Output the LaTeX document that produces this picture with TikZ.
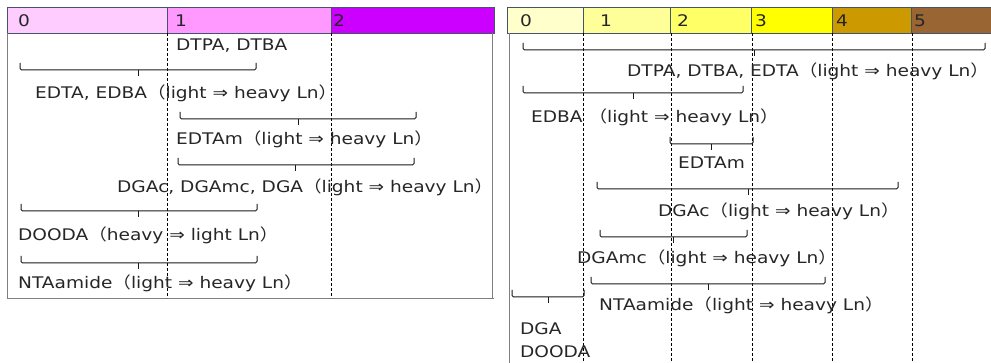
\documentclass[tikz,border=0pt]{standalone}
\usepackage{fontspec}
\setmainfont[FakeStretch=1.16]{DejaVu Sans}
\newfontfamily\jpfont[FakeStretch=1.16]{Noto Sans CJK JP}
\newcommand{\lp}{{\jpfont （}}
\newcommand{\rp}{{\jpfont ）}}
\usetikzlibrary{positioning}

\definecolor{hdline}{HTML}{44546A}
\definecolor{frm}{HTML}{7F7F7F}
\definecolor{brk}{HTML}{1A1A1A}

\begin{document}
\begin{tikzpicture}[x=1pt, y=-1pt,
  every node/.style={font=\fontsize{16}{19}\selectfont, inner sep=0pt, text=black!85},
  lbl/.style={anchor=west},
  hd/.style={anchor=west},
  cell/.style={draw=hdline, line width=0.8pt},
  grid/.style={densely dashed, black, line width=0.5pt},
  brace/.style={brk, line width=1pt, rounded corners=1.5pt}]
\useasboundingbox (0,0) rectangle (991,363);

% left chart
\foreach \xa/\xb/\col/\d/\xt in {7/167/FFCCFF/0/18, 167/331/FF99FF/1/175, 331/494/CC00FF/2/333}
  {\definecolor{cc}{HTML}{\col}
   \draw[cell, fill=cc] (\xa,7) rectangle (\xb,33);
   \node[hd] (hl\d) at (\xt,21) {\d};}
\draw[frm, line width=0.8pt] (7,33) -- (7,298) -- (494,298);
\draw[frm, line width=0.8pt] (492,33) -- (492,298);
\foreach \x in {167,331}
  \draw[grid] (\x,33) -- (\x,298);

\node[lbl] (dtpaL) at (176,46) {DTPA, DTBA};
\node[lbl] (edtaL) at (35,93) {EDTA, EDBA\lp light ⇒ heavy Ln\rp};
\node[lbl] (edtamL) at (176,139) {EDTAm\lp light ⇒ heavy Ln\rp};
\node[lbl] (dgaL) at (117,187) {DGAc, DGAmc, DGA\lp light ⇒ heavy Ln\rp};
\node[lbl] (doodaL) at (18,235) {DOODA\lp heavy ⇒ light Ln\rp};
\node[lbl] (ntaL) at (18,283) {NTAamide\lp light ⇒ heavy Ln\rp};

% right chart
\foreach \xa/\xb/\col/\d/\xt in {507/583/FFFFCC/0/520, 583/670/FFFF99/1/600, 670/751/FFFF66/2/677,
                                 751/832/FFFF00/3/755, 832/911/CC9900/4/836, 911/991/996633/5/914}
  {\definecolor{cc}{HTML}{\col}
   \draw[cell, fill=cc] (\xa,7) rectangle (\xb,33);
   \node[hd] (hr\d) at (\xt,21) {\d};}
\draw[frm, line width=0.8pt] (509,33) -- (509,363);
\foreach \x in {583,671,752,832,912}
  \draw[grid] (\x,33) -- (\x,363);

\node[lbl] (dtpaR) at (627,71) {DTPA, DTBA, EDTA\lp light ⇒ heavy Ln\rp};
\node[lbl] (edbaR) at (531,117) {EDBA\ \lp light ⇒ heavy Ln\rp};
\node[lbl] (edtamR) at (678,163) {EDTAm};
\node[lbl] (dgacR) at (658,211) {DGAc\lp light ⇒ heavy Ln\rp};
\node[lbl] (dgamcR) at (577,258) {DGAmc\lp light ⇒ heavy Ln\rp};
\node[lbl] (ntaR) at (599,305) {NTAamide\lp light ⇒ heavy Ln\rp};
\node[lbl] (dgaR) at (520,329) {DGA};
\node[lbl] (doodaR) at (520,352) {DOODA};

% braces: left end / right end / middle / height
\foreach \xa/\xb/\xm/\yy in {20/256/138/70, 180/416/298/119, 178/414/295/165,
                             21/257/138/211, 21/257/138/263,
                             523/985/754/50, 523/743/633/93, 670/753/711/144,
                             597/898/748/189, 600/747/673/237, 591/825/708/284, 512/584/548/297}
  {\draw[brace] (\xa,\yy-7) -- (\xa,\yy) -- (\xb,\yy) -- (\xb,\yy-7);
   \draw[brace] (\xm,\yy) -- (\xm,\yy+6);}
\end{tikzpicture}
\end{document}
